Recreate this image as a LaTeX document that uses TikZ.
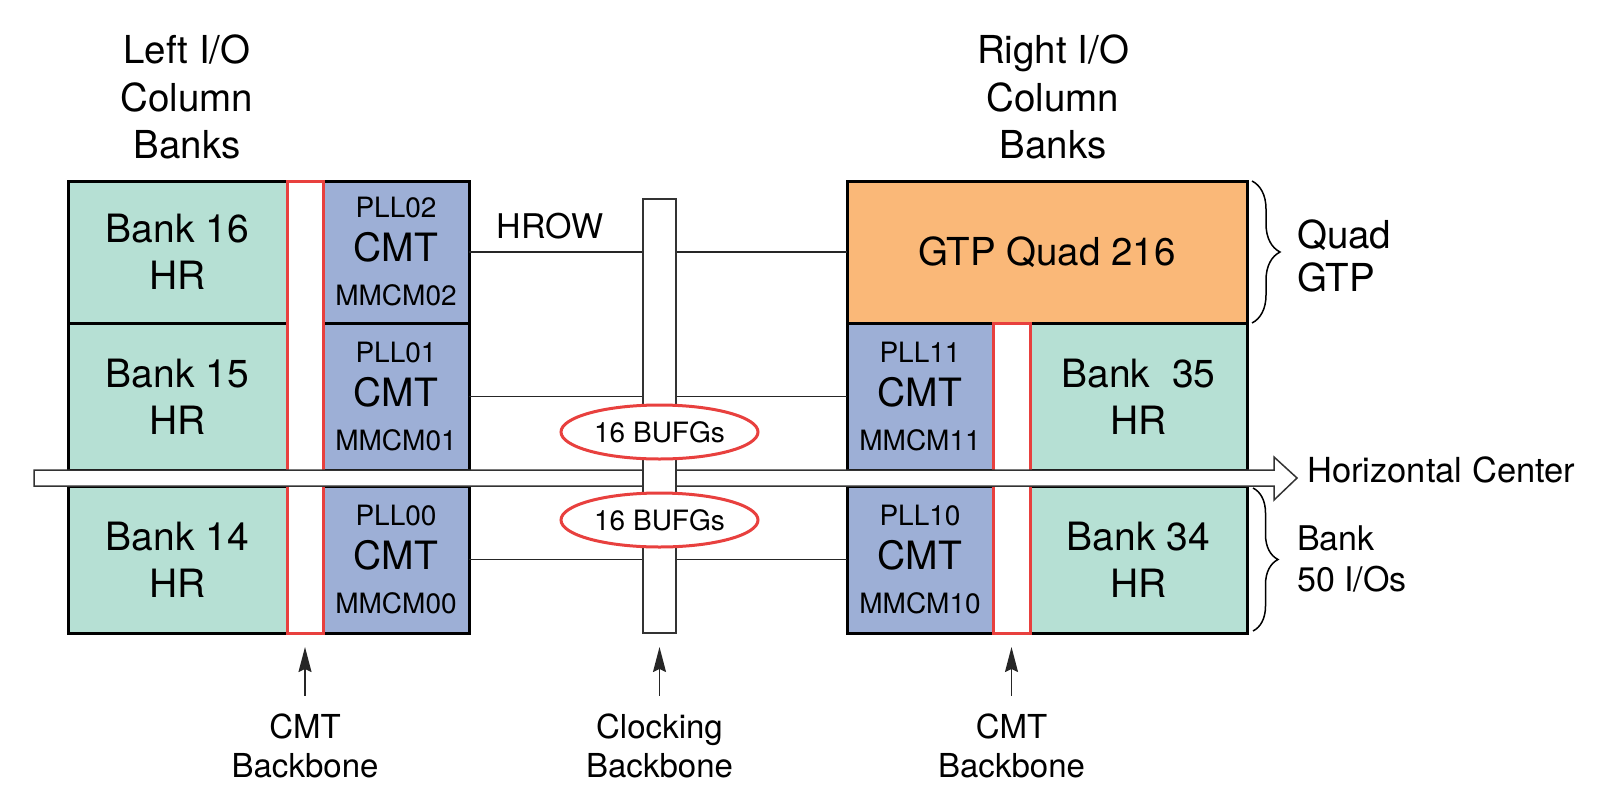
\documentclass[tikz,border=0pt]{standalone}
\usepackage{fontspec}
\setmainfont{TeX Gyre Heros}
\usepackage{xcolor}
\usetikzlibrary{shapes.geometric,arrows.meta,decorations.pathreplacing}
\definecolor{bankgreen}{HTML}{B6E0D4}
\definecolor{cmtblue}{HTML}{9DAFD6}
\definecolor{gtporange}{HTML}{FAB878}
\definecolor{bonered}{HTML}{E8403E}
\newcommand{\fbank}{\fontsize{39}{47}\selectfont}
\newcommand{\fcmt}{\fontsize{39}{44}\selectfont}
\newcommand{\fpll}{\fontsize{28}{44}\selectfont}
\newcommand{\fmmcm}{\fontsize{28}{44}\selectfont}
\newcommand{\ftitle}{\fontsize{38.5}{47.5}\selectfont}
\newcommand{\fside}{\fontsize{34}{41}\selectfont}
\newcommand{\fbottom}{\fontsize{33}{39}\selectfont}

\begin{document}
\begin{tikzpicture}[x=1pt,y=-1pt,
    cell/.style={draw=black,line width=3pt,inner sep=0pt,outer sep=0pt,align=center},
    bank/.style={cell,fill=bankgreen,minimum width=219pt,font=\fbank},
    cmt/.style={cell,fill=cmtblue,minimum width=146pt,font=\fcmt},
    redbone/.style={draw=bonered,fill=white,line width=3pt,inner sep=0pt,outer sep=0pt},
    clkbone/.style={draw=black!80,fill=white,line width=1.5pt,inner sep=0pt,outer sep=0pt,
        minimum width=33pt,minimum height=434pt},
    bufg/.style={ellipse,draw=bonered,fill=white,line width=3pt,inner sep=0pt,
        minimum width=197pt,minimum height=54pt,font=\fontsize{28}{34}\selectfont},
    hrow/.style={draw=black!85,line width=1.5pt},
    band/.style={draw=black!80,fill=white,line width=1.5pt,line join=miter},
    brace/.style={decorate,decoration={brace,amplitude=#1},line width=1.5pt},
    uparrow/.style={draw=black!85,line width=1.5pt,-{Stealth[length=25pt,width=13pt,inset=3pt]}},
    title/.style={align=center,font=\ftitle,inner sep=0pt},
    side/.style={align=left,font=\fside,inner sep=0pt,anchor=west},
    bottom/.style={align=center,font=\fbottom,inner sep=0pt}]
    \useasboundingbox (0,0) rectangle (1602,790);

    % titles
    \node[title] (lefttitle) at (187,97) {Left I/O\\Column\\Banks};
    \node[title] (righttitle) at (1053,97) {Right I/O\\Column\\Banks};

    % left column
    \node[bank,minimum height=142pt] (bank16) at (177.5,252) {Bank 16\\HR};
    \node[bank,minimum height=147pt] (bank15) at (177.5,396.5) {Bank 15\\HR};
    \node[bank,minimum height=147pt] (bank14) at (177.5,559.5) {Bank 14\\HR};
    \node[cmt,minimum height=142pt] (cmt02) at (396,252) {{\fpll PLL02}\\CMT\\{\fmmcm MMCM02}};
    \node[cmt,minimum height=147pt] (cmt01) at (396,396.5) {{\fpll PLL01}\\CMT\\{\fmmcm MMCM01}};
    \node[cmt,minimum height=147pt] (cmt00) at (396,559.5) {{\fpll PLL00}\\CMT\\{\fmmcm MMCM00}};
    \node[redbone,minimum width=36pt,minimum height=452pt] (boneL) at (305,407) {};

    % right column
    \node[cell,fill=gtporange,minimum width=400pt,minimum height=142pt,
        font=\fontsize{38.5}{44}\selectfont] (gtp) at (1047,252) {GTP Quad 216};
    \node[cmt,minimum height=147pt] (cmt11) at (920,396.5) {{\fpll PLL11}\\CMT\\{\fmmcm MMCM11}};
    \node[cmt,minimum height=147pt] (cmt10) at (920,559.5) {{\fpll PLL10}\\CMT\\{\fmmcm MMCM10}};
    \node[bank,minimum width=217pt,minimum height=147pt] (bank35) at (1138.5,396.5) {Bank\ \ 35\\HR};
    \node[bank,minimum width=217pt,minimum height=147pt] (bank34) at (1138.5,559.5) {Bank 34\\HR};
    \node[redbone,minimum width=37pt,minimum height=310pt] (boneR) at (1011.5,478) {};

    % horizontal center
    \draw[band] (34,470) -- (1274,470) -- (1274,457) -- (1297,478) -- (1274,500)
        -- (1274,486) -- (34,486) -- cycle;
    \coordinate (hctip) at (1297,478);
    \node[side,font=\fontsize{34.5}{40}\selectfont] (hclabel) at ([xshift=10pt,yshift=8pt]hctip) {Horizontal Center};

    % HROW
    \draw[hrow] (cmt02.east) -- (gtp.west);
    \draw[hrow] (cmt01.east) -- (cmt11.west);
    \draw[hrow] (cmt00.east) -- (cmt10.west);
    \node[font=\fontsize{34}{40}\selectfont,inner sep=0pt] (hrowlabel) at (550,226) {HROW};

    % clocking backbone
    \node[clkbone] (clkbone) at (659.5,416) {};
    \node[bufg] (bufgtop) at (659.5,432) {16 BUFGs};
    \node[bufg] (bufgbot) at (659.5,520) {16 BUFGs};

    % braces
    \draw[brace=28pt] ([xshift=5pt]gtp.north east) -- ([xshift=5pt]gtp.south east);
    \draw[brace=25pt] ([xshift=6pt,yshift=-2pt]bank34.north east) -- ([xshift=6pt,yshift=2pt]bank34.south east);
    \node[side,font=\fontsize{38.5}{43}\selectfont] (quadgtp) at (1297,256) {Quad\\GTP};
    \node[side,font=\fontsize{34}{41}\selectfont] (banksize) at (1297,559) {Bank\\50 I/Os};

    % backbone labels
    \node[bottom] (lblboneL) at (305,746) {CMT\\Backbone};
    \node[bottom] (lblclk) at (659.5,746) {Clocking\\Backbone};
    \node[bottom] (lblboneR) at (1011.5,746) {CMT\\Backbone};
    \draw[uparrow,shorten <=18pt,shorten >=14pt] (lblboneL.north) -- (boneL.south);
    \draw[uparrow,shorten <=18pt,shorten >=14pt] (lblclk.north) -- (clkbone.south);
    \draw[uparrow,shorten <=18pt,shorten >=14pt] (lblboneR.north) -- (boneR.south);
\end{tikzpicture}
\end{document}
